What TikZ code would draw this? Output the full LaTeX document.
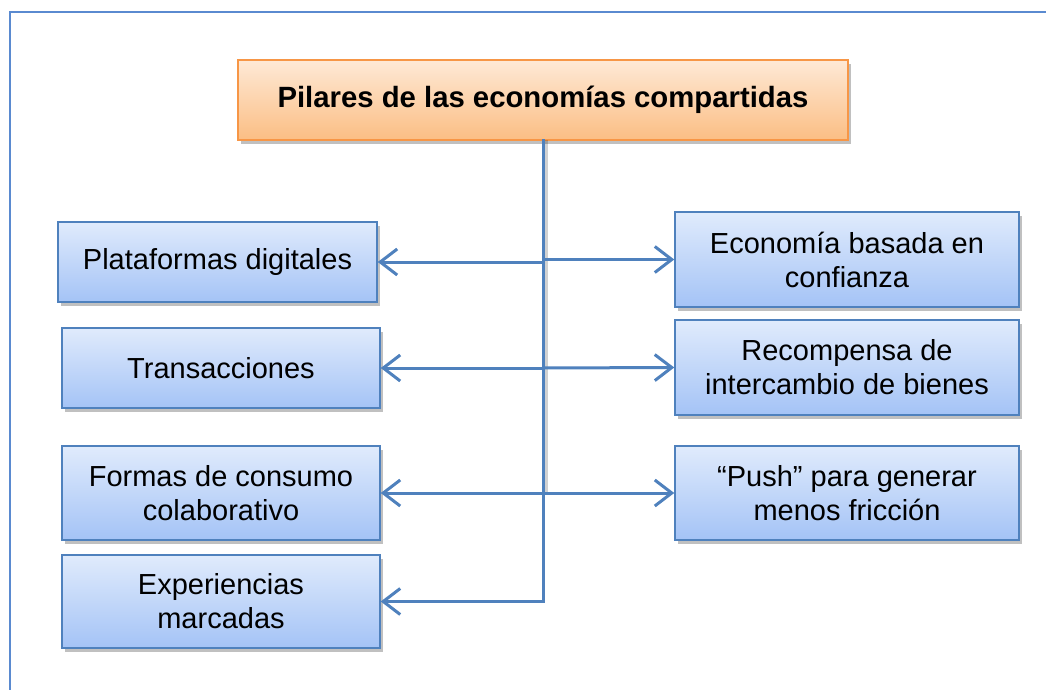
\documentclass[tikz,border=0pt]{standalone}
\usepackage{fontspec}
\setmainfont{Liberation Sans}
\usetikzlibrary{arrows.meta,shadows}
\definecolor{frameblue}{HTML}{5A8AD0}
\definecolor{lineblue}{HTML}{4F81BD}
\definecolor{boxtop}{HTML}{E0EBFC}
\definecolor{boxbot}{HTML}{A4C3F6}
\definecolor{orgtop}{HTML}{FEE9D6}
\definecolor{orgbot}{HTML}{FBBE84}
\definecolor{orgline}{HTML}{F79646}
\tikzset{
  shade/.style={drop shadow={shadow xshift=3pt, shadow yshift=-4pt, opacity=0.35, fill=black!70}},
  bluebox/.style={draw=lineblue, line width=1.5pt, top color=boxtop, bottom color=boxbot,
    shade, align=center, inner sep=2pt,
    font=\fontsize{29}{34}\selectfont, text=black},
  titlebox/.style={draw=orgline, line width=1.5pt, top color=orgtop, bottom color=orgbot,
    shade, align=center, font=\fontsize{29.3}{34}\selectfont\bfseries, text=black},
  conn/.style={draw=lineblue, line width=3pt},
  connshadow/.style={draw=black, opacity=0.18, line width=4pt},
  arr/.style={conn, -{Straight Barb[length=17pt, width=26pt, line width=3pt]}},
}
\begin{document}
\begin{tikzpicture}[x=1pt,y=-1pt]
\useasboundingbox (0,0) rectangle (1046,690);
\fill[white] (0,0) rectangle (1046,690);
\draw[frameblue, line width=2.5pt] (10,12) rectangle (1070,720);

\node[titlebox, minimum width=610pt, minimum height=80pt] (title) at (543,100) {Pilares de las economías compartidas};

\node[bluebox, minimum width=319pt, minimum height=80pt] (L1) at (217.5,262) {Plataformas digitales};
\node[bluebox, minimum width=318pt, minimum height=80pt] (L2) at (221,368) {Transacciones};
\node[bluebox, minimum width=318pt, minimum height=94pt] (L3) at (221,493) {Formas de consumo\\colaborativo};
\node[bluebox, minimum width=318pt, minimum height=93pt] (L4) at (221,601.5) {Experiencias\\marcadas};

\node[bluebox, minimum width=344pt, minimum height=95pt] (R1) at (847,259.5) {Economía basada en\\confianza};
\node[bluebox, minimum width=344pt, minimum height=95pt] (R2) at (847,367.5) {Recompensa de\\intercambio de bienes};
\node[bluebox, minimum width=344pt, minimum height=94pt] (R3) at (847,493) {“Push” para generar\\menos fricción};

\coordinate (jt) at (543,140);
\coordinate (js) at (546,140);
\coordinate (j1) at (543,262);
\coordinate (k1) at (543,259.5);
\coordinate (j2) at (543,368);
\coordinate (j3) at (543,493);
\coordinate (j3s) at (546,493);
\coordinate (j4) at (543,601.5);

\draw[connshadow] (js) -- (j3s);
\draw[conn, line cap=rect] (title.south -| jt) -- (j4);
\draw[arr] (j1) -- (L1.east);
\draw[arr] (k1) -- (R1.west);
\draw[arr] (j2) -- (L2.east);
\draw[arr] (j2) -- (R2.west);
\draw[arr] (j3) -- (L3.east);
\draw[arr] (j3) -- (R3.west);
\draw[arr] (j4) -- (L4.east);
\end{tikzpicture}
\end{document}
